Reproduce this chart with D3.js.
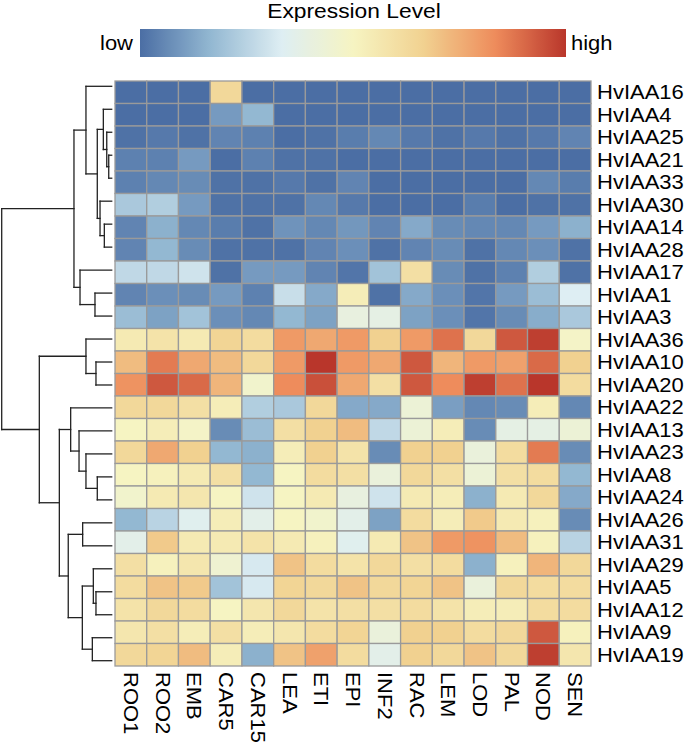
<!DOCTYPE html>
<html>
<head>
<meta charset="utf-8">
<script src="https://cdn.jsdelivr.net/npm/d3@7"></script>
<style>
  html, body { margin: 0; padding: 0; background: #fff; }
  svg { display: block; }
  text { font-family: "Liberation Sans", Arial, Helvetica, sans-serif; fill: #000; }
</style>
</head>
<body>
<svg id="chart" width="685" height="744"></svg>
<script>
// ---------------- DATA ----------------
const columns = ["ROO1","ROO2","EMB","CAR5","CAR15","LEA","ETI","EPI","INF2","RAC","LEM","LOD","PAL","NOD","SEN"];
const genes = ["HvIAA16","HvIAA4","HvIAA25","HvIAA21","HvIAA33","HvIAA30","HvIAA14","HvIAA28","HvIAA17","HvIAA1","HvIAA3",
               "HvIAA36","HvIAA10","HvIAA20","HvIAA22","HvIAA13","HvIAA23","HvIAA8","HvIAA24","HvIAA26","HvIAA31",
               "HvIAA29","HvIAA5","HvIAA12","HvIAA9","HvIAA19"];
// expression level, 0 = lowest (blue) ... 6 = highest (red)
const values = [
  [0,0,0,3.8,0,0,0,0,0,0,0,0,0,0,0],                                   // HvIAA16
  [0,0,0,0.6,1.0,0,0,0,0,0,0,0,0,0,0],                                 // HvIAA4
  [0.05,0.15,0.05,0.3,0.25,0,0.05,0.2,0.35,0.15,0.05,0.15,0.05,0.15,0.3], // HvIAA25
  [0.25,0.25,0.6,0,0.25,0.05,0.05,0,0,0,0,0,0,0,0],                    // HvIAA21
  [0.25,0.35,0.4,0.05,0.05,0.15,0.05,0.3,0,0,0,0,0,0.35,0.2],          // HvIAA33
  [1.3,1.4,0.6,0.05,0.05,0.05,0.35,0.15,0,0,0,0.2,0,0.05,0.05],        // HvIAA30
  [0.3,0.9,0.35,0.2,0.05,0.5,0.35,0.55,0.3,0.8,0.4,0.35,0.35,0.6,0.9], // HvIAA14
  [0.3,1.0,0.4,0.05,0.05,0.05,0.3,0.45,0.05,0.3,0.4,0.05,0.35,0.45,0.05], // HvIAA28
  [1.6,1.6,1.8,0.05,0.6,0.6,0.3,0.1,1.2,3.6,0.4,0.05,0.25,1.4,0.05],   // HvIAA17
  [0.3,0.45,0.4,0.6,0.25,1.7,0.8,3.2,0.05,0.8,0.45,0.1,0.6,1.1,2.0],   // HvIAA1
  [1.1,0.7,1.2,0.45,0.35,1.0,0.7,2.4,2.3,0.7,0.45,0.1,0.4,0.85,1.3],   // HvIAA3
  [3.3,3.5,3.3,3.9,3.7,4.8,4.6,4.8,4.0,4.8,5.3,3.8,5.6,5.9,2.9],       // HvIAA36
  [4.3,5.2,4.6,4.3,3.8,4.8,6.0,4.8,4.6,5.6,4.4,4.8,4.7,5.4,4.0],       // HvIAA10
  [4.9,5.6,5.4,4.4,2.8,5.0,5.7,4.6,3.6,5.6,5.0,5.9,5.3,6.0,3.7],       // HvIAA20
  [3.8,3.8,3.6,3.2,1.4,1.3,3.8,0.8,0.8,2.6,0.65,0.35,0.4,3.2,0.35],    // HvIAA22
  [3.0,3.2,2.9,0.4,1.1,3.6,4.0,4.3,1.6,2.6,3.2,0.4,2.3,2.3,2.6],       // HvIAA13
  [3.8,4.6,4.0,1.0,0.9,3.2,4.0,3.5,0.4,4.0,4.0,2.5,3.7,5.2,0.4],       // HvIAA23
  [3.0,3.1,3.3,3.6,1.0,3.0,3.7,3.6,2.5,3.8,3.6,2.6,3.6,3.7,1.0],       // HvIAA8
  [2.8,3.3,3.4,3.0,1.8,3.0,3.3,2.4,1.8,3.3,3.2,0.9,3.3,3.8,0.8],       // HvIAA24
  [1.0,1.5,2.1,3.2,2.2,3.0,2.8,2.2,0.7,3.7,3.2,4.1,3.3,3.1,0.4],       // HvIAA26
  [2.2,4.1,3.3,3.3,3.5,3.3,3.1,2.1,3.3,4.2,4.8,4.9,4.3,3.1,1.5],       // HvIAA31
  [3.6,3.1,3.4,2.7,1.9,4.2,3.7,3.5,3.8,3.6,3.7,0.9,3.1,4.4,3.8],       // HvIAA29
  [3.7,4.2,4.1,1.2,1.9,3.9,3.8,4.2,3.8,3.9,4.2,2.5,3.8,3.7,3.7],       // HvIAA5
  [3.5,3.8,3.7,3.0,3.4,3.8,3.5,3.6,3.6,3.7,3.5,3.2,3.2,3.7,3.7],       // HvIAA12
  [3.4,3.6,3.2,3.6,3.2,3.4,3.7,3.9,2.5,4.0,4.0,3.7,3.8,5.6,3.1],       // HvIAA9
  [3.8,3.9,4.3,3.2,0.9,4.2,4.7,3.7,2.2,4.0,3.8,4.2,3.8,5.9,3.4]        // HvIAA19
];
// row dendrogram: [child A, child B, merge height]; "#k" refers to merge k
const rowMerge = [
  ["HvIAA21","HvIAA33",0.27],
  ["HvIAA25","#0",0.45],
  ["HvIAA4","#1",0.76],
  ["HvIAA14","HvIAA28",0.67],
  ["HvIAA30","#3",1.06],
  ["#2","#4",1.31],
  ["HvIAA16","#5",2.34],
  ["HvIAA1","HvIAA3",1.52],
  ["HvIAA17","#7",2.88],
  ["#6","#8",3.43],
  ["HvIAA10","HvIAA20",1.43],
  ["HvIAA36","#10",2.34],
  ["HvIAA8","HvIAA24",1.31],
  ["HvIAA23","#12",2.34],
  ["HvIAA13","#13",2.97],
  ["HvIAA22","#14",3.73],
  ["HvIAA26","HvIAA31",2.64],
  ["HvIAA5","HvIAA12",1.43],
  ["HvIAA29","#17",1.67],
  ["HvIAA9","HvIAA19",1.76],
  ["#18","#19",2.67],
  ["#16","#20",3.95],
  ["#15","#21",4.76],
  ["#11","#22",6.58],
  ["#9","#23",10.0]
];
const legendTitle = "Expression Level";
const legendLow = "low", legendHigh = "high";
const colorStops = ["#4b6ea4","#93b8d2","#deeef3","#f6f4c2","#f1d190","#ee8c5c","#b9362b"];

// ---------------- SCALES ----------------
const svg = d3.select("#chart");
const FONT = 19.3;      // glyph size
const STRETCH = 1.14;   // the reference font is wider than Arial

const x = d3.scaleBand().domain(columns).range([115, 591]);
const y = d3.scaleBand().domain(genes).range([81, 666]);
const color = d3.scaleLinear()
  .domain(d3.range(colorStops.length))
  .range(colorStops)
  .interpolate(d3.interpolateRgb)
  .clamp(true);

// ---------------- HEATMAP ----------------
const cells = [];
values.forEach((row, i) => row.forEach((v, j) => cells.push({g: genes[i], c: columns[j], v})));
svg.append("g").selectAll("rect").data(cells).join("rect")
  .attr("x", d => x(d.c))
  .attr("y", d => y(d.g))
  .attr("width", x.bandwidth())
  .attr("height", y.bandwidth())
  .attr("fill", d => color(d.v))
  .attr("stroke", "#9a9a9a")
  .attr("stroke-width", 1.3);

// row labels
svg.append("g").selectAll("text").data(genes).join("text")
  .attr("transform", d => `translate(597,${y(d) + y.bandwidth() / 2}) scale(${STRETCH},1)`)
  .attr("dy", "0.36em")
  .attr("font-size", FONT)
  .text(d => d);

// column labels
svg.append("g").selectAll("text").data(columns).join("text")
  .attr("transform", d => `translate(${x(d) + x.bandwidth() / 2},672) rotate(90) scale(${STRETCH},1)`)
  .attr("dy", "0.36em")
  .attr("font-size", FONT)
  .text(d => d);

// ---------------- DENDROGRAM ----------------
const hx = d3.scaleLinear().domain([0, 10]).range([111.7, 1.7]);
const leafY = d3.scaleLinear().domain([0, genes.length - 1]).range([86.3, 660.7]);
const nodes = [];
function resolve(ref) {
  if (ref.startsWith("#")) return nodes[+ref.slice(1)];
  return {h: 0, y: leafY(genes.indexOf(ref))};
}
const segs = [];
rowMerge.forEach(([a, b, h]) => {
  const A = resolve(a), B = resolve(b);
  const node = {h, y: (A.y + B.y) / 2};
  nodes.push(node);
  segs.push([hx(h), A.y, hx(h), B.y]);
  segs.push([hx(h), A.y, hx(A.h), A.y]);
  segs.push([hx(h), B.y, hx(B.h), B.y]);
});
svg.append("g").selectAll("line").data(segs).join("line")
  .attr("x1", d => d[0]).attr("y1", d => d[1])
  .attr("x2", d => d[2]).attr("y2", d => d[3])
  .attr("stroke", "#222")
  .attr("stroke-width", 1.3)
  .attr("stroke-linecap", "square");

// ---------------- LEGEND ----------------
const lx = d3.scaleLinear().domain([0, colorStops.length - 1]).range([140, 566]);
const defs = svg.append("defs");
const grad = defs.append("linearGradient").attr("id", "cbar")
  .attr("x1", "0%").attr("x2", "100%").attr("y1", "0%").attr("y2", "0%");
grad.selectAll("stop").data(d3.range(0, 6.0001, 0.1)).join("stop")
  .attr("offset", d => (d / 6 * 100) + "%")
  .attr("stop-color", d => color(d));
svg.append("rect")
  .attr("x", lx(0)).attr("y", 29)
  .attr("width", lx(colorStops.length - 1) - lx(0)).attr("height", 28)
  .attr("fill", "url(#cbar)");
svg.append("text")
  .attr("transform", `translate(354,18) scale(${STRETCH},1)`)
  .attr("text-anchor", "middle")
  .attr("font-size", 20).text(legendTitle);
svg.append("text")
  .attr("transform", `translate(${lx(0) - 7},50) scale(${STRETCH},1)`)
  .attr("text-anchor", "end")
  .attr("font-size", FONT).text(legendLow);
svg.append("text")
  .attr("transform", `translate(${lx(colorStops.length - 1) + 5},50) scale(${STRETCH},1)`)
  .attr("font-size", FONT).text(legendHigh);
</script>
</body>
</html>
